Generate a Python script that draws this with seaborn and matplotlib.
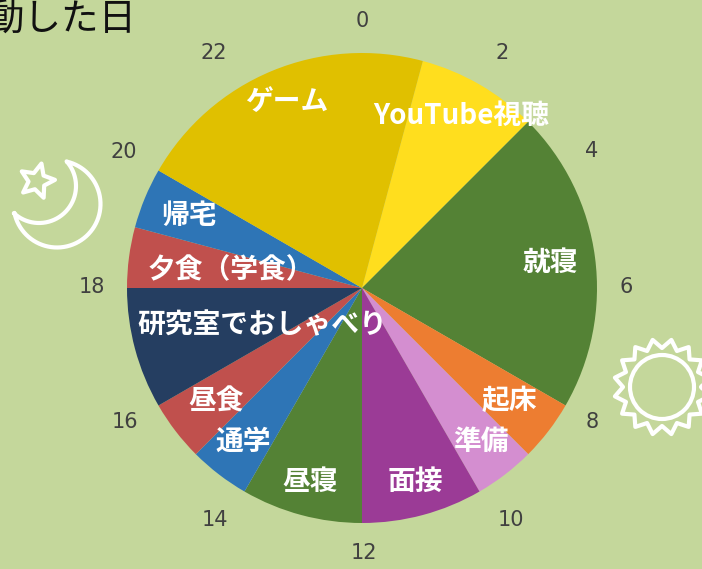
import numpy as np
import seaborn as sns
import matplotlib.pyplot as plt
from matplotlib.patches import Circle, Polygon

activities = ['YouTube視聴', '就寝', '起床', '準備', '面接', '昼寝', '通学', '昼食',
              '研究室でおしゃべり', '夕食（学食）', '帰宅', 'ゲーム']
hours = [2, 5, 1, 1, 2, 2, 1, 1, 2, 1, 1, 5]
wedge_colors = ['#FFDE1E', '#548235', '#ED7D31', '#D48ED0', '#9B3B96', '#548235',
                '#2E75B6', '#C0504D', '#253E61', '#C0504D', '#2E75B6', '#E0C000']
hour_labels = ['0', '2', '4', '6', '8', '10', '12', '14', '16', '18', '20', '22']
title = '動した日'

BG = '#C4D79B'
W, H = 702, 569

sns.set_theme(style='white')
plt.rcParams['font.family'] = ['Noto Sans CJK JP', 'DejaVu Sans']

fig = plt.figure(figsize=(W / 100, H / 100), dpi=100, facecolor=BG)
ax = fig.add_axes([0, 0, 1, 1])
ax.set_xlim(0, W)
ax.set_ylim(H, 0)
ax.axis('off')
ax.set_aspect('equal')

# pie wedges, first one starts at 1 o'clock; y axis is flipped so angles run clockwise
cx, cy, r = 362, 288, 235
ax.pie(hours, colors=sns.color_palette(wedge_colors), center=(cx, cy), radius=r,
       startangle=-75, counterclock=True, frame=True, wedgeprops={'linewidth': 0})
ax.set_xlim(0, W)
ax.set_ylim(H, 0)
ax.axis('off')

label_xy = [(461, 116), (550, 263), (509, 401), (481, 442), (415, 482), (310, 482),
            (243, 442), (216, 401), (262, 325), (231, 270), (189, 216), (287, 102)]
for name, (x, y) in zip(activities, label_xy):
    ax.text(x, y, name, color='white', fontsize=20, fontweight='bold', ha='center', va='center')

hour_xy = [(362, 21), (502, 53), (592, 151), (626, 287), (592, 422), (511, 520),
           (364, 553), (215, 520), (125, 422), (92, 287), (124, 152), (214, 53)]
for name, (x, y) in zip(hour_labels, hour_xy):
    ax.text(x, y, name, color='#404040', fontsize=15, family='DejaVu Sans', ha='center', va='center')

ax.text(136, 19, title, color='#111111', fontsize=27, ha='right', va='center')

# sun
sx, sy = 662, 387
ax.add_patch(Circle((sx, sy), 32, fill=False, ec='white', lw=3))
ang = np.linspace(0, 2 * np.pi, 32, endpoint=False) + np.pi / 16
rad = np.where(np.arange(32) % 2 == 0, 48, 39)
ax.add_patch(Polygon(np.c_[sx + rad * np.cos(ang), sy + rad * np.sin(ang)], closed=True,
                     fill=False, ec='white', lw=3, joinstyle='round'))

# moon
t1, t2 = np.array([67, 161]), np.array([14, 213])
oc, ir = np.array([57, 204]), np.array([39, 186])
a1 = np.arctan2(*(t1 - oc)[::-1])
a2 = np.arctan2(*(t2 - oc)[::-1])
outer = oc + 43.5 * np.c_[np.cos(np.linspace(a1, a2, 60)), np.sin(np.linspace(a1, a2, 60))]
b1 = np.arctan2(*(t2 - ir)[::-1])
b2 = np.arctan2(*(t1 - ir)[::-1])
inner = ir + 37 * np.c_[np.cos(np.linspace(b1, b2, 40)), np.sin(np.linspace(b1, b2, 40))]
ax.add_patch(Polygon(np.vstack([outer, inner]), closed=True, fill=False, ec='white',
                     lw=3, joinstyle='round'))

# star
st = np.linspace(-np.pi / 2 + 0.25, 3 * np.pi / 2 + 0.25, 10, endpoint=False)
srad = np.where(np.arange(10) % 2 == 0, 18, 8.5)
ax.add_patch(Polygon(np.c_[37 + srad * np.cos(st), 181 + srad * np.sin(st)], closed=True,
                     fill=False, ec='white', lw=3, joinstyle='round'))

fig.savefig('out.png', dpi=100, facecolor=BG)
